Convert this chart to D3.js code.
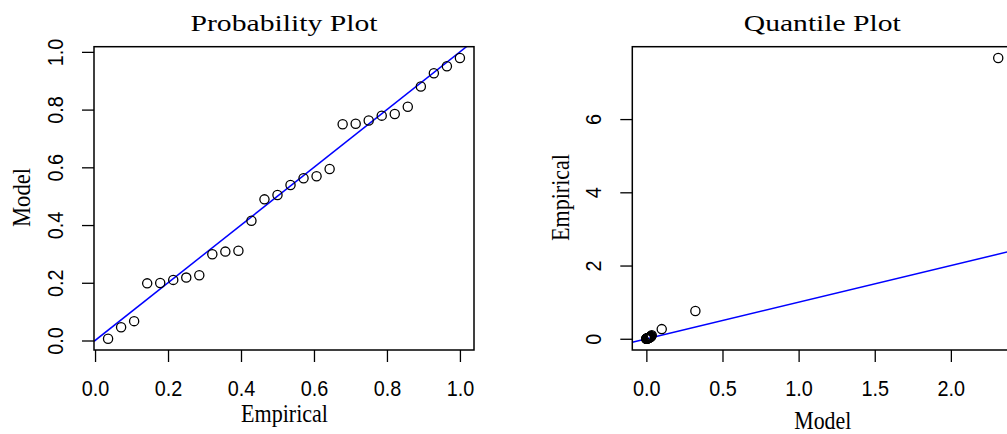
<!DOCTYPE html>
<html><head><meta charset="utf-8">
<script src="https://cdn.jsdelivr.net/npm/d3@7"></script>
<style>body{margin:0;background:#fff}svg{display:block}</style>
</head><body>
<svg id="chart" width="1007" height="434"></svg>
<script>
// ---- Probability plot data ----
const probEmpirical = [0.0357,0.0714,0.1071,0.1429,0.1786,0.2143,0.25,0.2857,0.3214,0.3571,0.3929,0.4286,0.4643,0.5,
  0.5357,0.5714,0.6071,0.6429,0.6786,0.7143,0.75,0.7857,0.8214,0.8571,0.8929,0.9286,0.9643,1.0];
const probModel = [0.006,0.046,0.067,0.198,0.199,0.210,0.218,0.226,0.299,0.308,0.311,0.415,0.489,0.504,
  0.539,0.562,0.569,0.594,0.749,0.751,0.762,0.779,0.785,0.810,0.880,0.926,0.950,0.979];
const probTicks = [0, 0.2, 0.4, 0.6, 0.8, 1.0];

// ---- Quantile plot data ----
const qqModel = [0.0001,0.0004,0.0009,0.0013,0.0020,0.0026,0.0035,0.0043,0.0052,0.0065,0.0077,0.0090,0.0104,0.0118,
  0.0135,0.0150,0.0170,0.0188,0.0210,0.0228,0.0252,0.0275,0.0300,0.0322,0.0355,0.101,0.322,2.311];
const qqEmpirical = [0.000,0.001,0.002,0.003,0.004,0.005,0.006,0.008,0.010,0.012,0.014,0.016,0.018,0.021,
  0.024,0.027,0.030,0.034,0.038,0.043,0.048,0.055,0.064,0.078,0.094,0.264,0.757,7.67];
const qqXTicks = [0, 0.5, 1.0, 1.5, 2.0];
const qqYTicks = [0, 2, 4, 6];

const svg = d3.select("#chart");
svg.append("rect").attr("width",1007).attr("height",434).attr("fill","#fff");

function padExtent(arr){
  const [lo, hi] = d3.extent(arr); const r = hi - lo;
  return [lo - 0.04*r, hi + 0.04*r];
}

function panel(o){
  const x = d3.scaleLinear().domain(padExtent(o.xs)).range([o.left, o.left + 380]);
  const y = d3.scaleLinear().domain(padExtent(o.ys)).range([350, 46.7]);
  const g = svg.append("g");
  const clipId = "clip" + o.id;
  svg.append("clipPath").attr("id", clipId).append("rect")
    .attr("x", o.left).attr("y", 46.7).attr("width", 380).attr("height", 303.3);

  // reference line y = x
  const d = x.domain();
  g.append("line").attr("clip-path", `url(#${clipId})`)
    .attr("x1", x(d[0])).attr("y1", y(d[0])).attr("x2", x(d[1])).attr("y2", y(d[1]))
    .attr("stroke", "#0000ff").attr("stroke-width", 1.5);

  // points
  g.append("g").attr("clip-path", `url(#${clipId})`).selectAll("circle")
    .data(o.xs.map((v,i)=>[v, o.ys[i]])).join("circle")
    .attr("cx", p=>x(p[0])).attr("cy", p=>y(p[1])).attr("r", 4.6)
    .attr("fill", "none").attr("stroke", "#000").attr("stroke-width", 1.3);

  // box
  g.append("rect").attr("x", o.left).attr("y", 46.7).attr("width", 380).attr("height", 303.3)
    .attr("fill", "none").attr("stroke", "#000").attr("stroke-width", 1.5);

  // x axis
  const xa = g.append("g").attr("transform", "translate(0,350)")
    .call(d3.axisBottom(x).tickValues(o.xTicks).tickFormat(o.xFmt).tickSize(12).tickSizeOuter(0));
  xa.select(".domain").remove();
  xa.selectAll(".tick line").attr("stroke", "#000").attr("stroke-width", 1.3);
  xa.selectAll(".tick text").attr("y", 46).attr("dy", null)
    .attr("font-family", "Liberation Sans, Arial, sans-serif").attr("font-size", 22).attr("fill", "#000");

  // y axis
  const ya = g.append("g").attr("transform", `translate(${o.left},0)`)
    .call(d3.axisLeft(y).tickValues(o.yTicks).tickFormat(o.yFmt).tickSize(12).tickSizeOuter(0));
  ya.select(".domain").remove();
  ya.selectAll(".tick line").attr("stroke", "#000").attr("stroke-width", 1.3);
  ya.selectAll(".tick text").attr("x", null).attr("dy", null).attr("text-anchor", "middle")
    .attr("transform", "translate(-31.5,0) rotate(-90)")
    .attr("font-family", "Liberation Sans, Arial, sans-serif").attr("font-size", 22).attr("fill", "#000");

  [xa, ya].forEach(a => a.selectAll(".tick text").each(function(){
    const L = this.getComputedTextLength();
    d3.select(this).attr("textLength", L*0.9).attr("lengthAdjust", "spacingAndGlyphs");
  }));
  xa.attr("font-size", null).attr("font-family", null);
  ya.attr("font-size", null).attr("font-family", null);

  const cx = o.left + 190;
  // title
  g.append("text").attr("x", cx).attr("y", 31).attr("text-anchor", "middle")
    .attr("font-family", "Liberation Serif, Times New Roman, serif").attr("font-size", 24)
    .attr("textLength", o.titleLen).attr("lengthAdjust", "spacingAndGlyphs")
    .text(o.title);
  // x title
  g.append("text").attr("x", cx + 0.5).attr("y", o.xTitleY).attr("text-anchor", "middle")
    .attr("font-family", "Liberation Serif, Times New Roman, serif").attr("font-size", 25)
    .attr("textLength", o.xTitleLen).attr("lengthAdjust", "spacingAndGlyphs")
    .text(o.xTitle);
  // y title
  g.append("text").attr("transform", `translate(${o.yTitleX},${197.5}) rotate(-90)`)
    .attr("text-anchor", "middle")
    .attr("font-family", "Liberation Serif, Times New Roman, serif").attr("font-size", 25)
    .attr("textLength", o.yTitleLen).attr("lengthAdjust", "spacingAndGlyphs")
    .text(o.yTitle);
}

panel({id: 1, left: 94, xs: probEmpirical, ys: probModel, xTicks: probTicks, yTicks: probTicks,
  xFmt: d3.format(".1f"), yFmt: d3.format(".1f"),
  title: "Probability Plot", titleLen: 187, xTitle: "Empirical", xTitleLen: 87, xTitleY: 421.5,
  yTitle: "Model", yTitleX: 30, yTitleLen: 59});

panel({id: 2, left: 632.3, xs: qqModel, ys: qqEmpirical, xTicks: qqXTicks, yTicks: qqYTicks,
  xFmt: d3.format(".1f"), yFmt: d3.format("d"),
  title: "Quantile Plot", titleLen: 157, xTitle: "Model", xTitleLen: 57, xTitleY: 429,
  yTitle: "Empirical", yTitleX: 568.5, yTitleLen: 87});
</script>
</body></html>
